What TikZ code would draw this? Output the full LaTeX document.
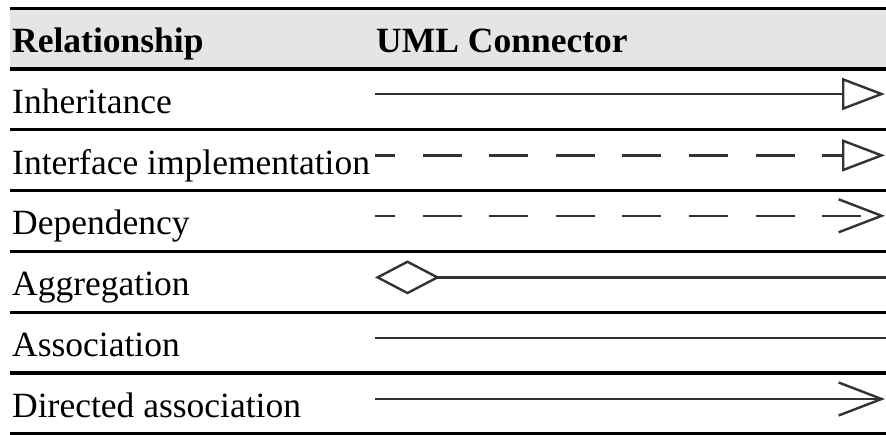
\documentclass[tikz,border=0pt]{standalone}
\usepackage{fontspec}
\setmainfont{Liberation Serif}
\usetikzlibrary{arrows.meta}

\begin{document}
\begin{tikzpicture}[x=1pt,y=-1pt,
    every node/.style={font=\fontsize{35.5}{40}\selectfont, anchor=base west, inner sep=0pt},
    regle/.style={line width=3.2pt},
    lien/.style={line width=2.4pt, black!80},
    pointille/.style={lien, dash pattern=on 39pt off 27.6pt, dash phase=19pt},
  ]
  \useasboundingbox (0,0) rectangle (886,435);

    \def\xG{10}
    \def\xD{886}
    \def\colA{12}
    \def\colB{376}
    \def\debut{375}
    \def\fin{885}

  % Header
  \fill[gray!20] (\xG,8.5) rectangle (\xD,69);
  \draw (\colA,53) node[font=\fontsize{35.5}{40}\selectfont\bfseries] (hdRel) {Relationship};
  \draw (\colB,53) node[font=\fontsize{35.5}{40}\selectfont\bfseries] (hdUml) {UML Connector};

  % Rules between the rows
  \draw[regle] (\xG,8.5) -- (\xD,8.5);
  \draw[regle] (\xG,69) -- (\xD,69);
  \draw[regle] (\xG,129.8) -- (\xD,129.8);
  \draw[regle] (\xG,190.6) -- (\xD,190.6);
  \draw[regle] (\xG,251.4) -- (\xD,251.4);
  \draw[regle] (\xG,312.2) -- (\xD,312.2);
  \draw[regle] (\xG,373) -- (\xD,373);
  \draw[regle] (\xG,433.2) -- (\xD,433.2);

  % Inheritance
  \draw (\colA,113.4) node (inh) {Inheritance};
  \coordinate (inhA) at (\debut,94);
  \coordinate (inhB) at (\fin,94);
  \draw[lien, -{Triangle[open, length=43pt, width=32pt]}, ] (inhA) -- (inhB);

  % Interface implementation
  \draw (\colA,174.2) node (iface) {Interface implementation};
  \coordinate (ifaceA) at (\debut,155.4);
  \coordinate (ifaceB) at (\fin,155.4);
  \draw[pointille, -{Triangle[open, length=43pt, width=32pt]}] (ifaceA) -- (ifaceB);

  % Dependency
  \draw (\colA,235) node (dep) {Dependency};
  \coordinate (depA) at (\debut,215.8);
  \coordinate (depB) at (\fin,215.8);
  \draw[pointille, -{Straight Barb[length=43pt, width=33pt]}] (depA) -- (depB);

  % Aggregation
  \draw (\colA,295.8) node (agg) {Aggregation};
  \coordinate (aggA) at (\debut,277.4);
  \coordinate (aggB) at (\xD,277.4);
  \draw[lien, {Diamond[open, length=65pt, width=34pt]}-] (aggA) -- (aggB);

  % Association
  \draw (\colA,356.6) node (assoc) {Association};
  \coordinate (assocA) at (\debut,338.2);
  \coordinate (assocB) at (\xD,338.2);
  \draw[lien] (assocA) -- (assocB);

  % Directed association
  \draw (\colA,417.4) node (dirAssoc) {Directed association};
  \coordinate (dirAssocA) at (\debut,399);
  \coordinate (dirAssocB) at (\fin,399);
  \draw[lien, -{Straight Barb[length=43pt, width=33pt]}] (dirAssocA) -- (dirAssocB);
\end{tikzpicture}
\end{document}
